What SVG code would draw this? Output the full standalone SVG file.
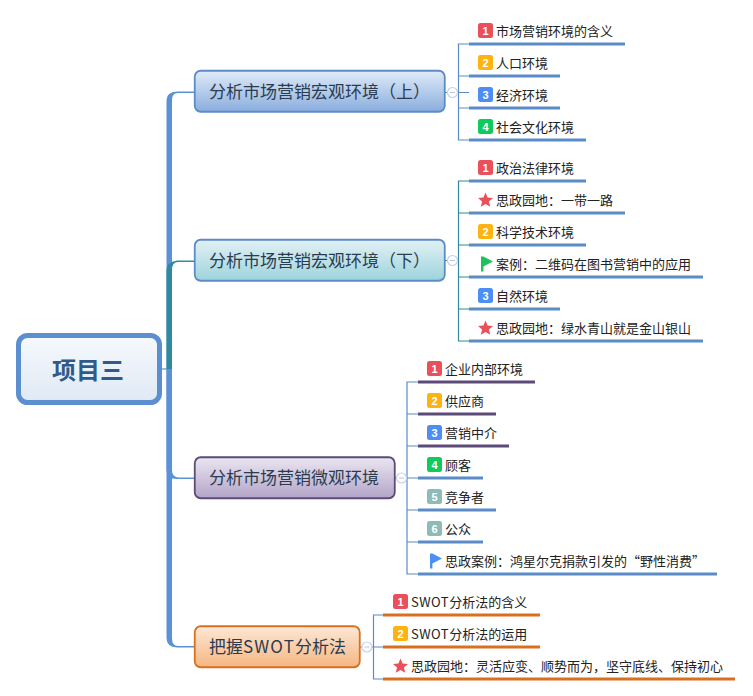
<svg xmlns="http://www.w3.org/2000/svg" width="753" height="696" viewBox="0 0 753 696">
<style>
.t{font-family:"Noto Sans CJK SC","Liberation Sans",sans-serif;font-size:13px;fill:#222}
.n{font-family:"Noto Sans CJK SC","Liberation Sans",sans-serif;font-size:17px;fill:#2b3c50}
.b{font-family:"Liberation Sans",sans-serif;font-size:11px;font-weight:bold;fill:#fff;text-anchor:middle}
.l{fill:none;stroke-width:3}
.k{fill:none;stroke-width:1.2}
.c{fill:#fff;stroke:#c5d3e6;stroke-width:1.2}
.m{stroke:#b9c6d8;stroke-width:1}
</style>
<defs>
<linearGradient id="g0" x1="0" y1="0" x2="0" y2="1"><stop offset="0" stop-color="#f6f9fc"/><stop offset="1" stop-color="#dfe9f5"/></linearGradient>
<linearGradient id="g1" x1="0" y1="0" x2="0" y2="1"><stop offset="0" stop-color="#dfebf8"/><stop offset="1" stop-color="#8badde"/></linearGradient>
<linearGradient id="g2" x1="0" y1="0" x2="0" y2="1"><stop offset="0" stop-color="#e2f1f5"/><stop offset="1" stop-color="#9dd3dc"/></linearGradient>
<linearGradient id="g3" x1="0" y1="0" x2="0" y2="1"><stop offset="0" stop-color="#ebe6f1"/><stop offset="1" stop-color="#b2a4c8"/></linearGradient>
<linearGradient id="g4" x1="0" y1="0" x2="0" y2="1"><stop offset="0" stop-color="#fde8d6"/><stop offset="1" stop-color="#f6b681"/></linearGradient>
<path id="star" d="M0-7.5 2.1-2.4 7.5-2 3.4 1.500 4.700 6.800 0 3.900-4.700 6.800-3.400 1.500-7.500-2-2.100-2.400Z" fill="#e9505a"/>
<path id="flag" d="M-5-7.500H-2.600L7-2.500-2.600 2.500V7.500H-5Z"/>
</defs>
<g id="connectors">
<path d="M161 369H168" fill="none" stroke="#5b92d6" stroke-width="1.200"/>
<path d="M166.500 369V100Q166.500 92 177 91.500H195V93H178Q172 93 172 100V369Z" fill="#5b92d6"/>
<path d="M166.500 369V270Q166.500 262 177 260.500H195V262H178Q172 262 172 270V369Z" fill="#2f8a9e"/>
<path d="M166.500 369V638Q166.500 647 177 647.500H195V646H178Q172 646 172 638V369Z" fill="#5b92d6"/>
<path d="M166.500 369H172V470Q172 477 178 477.500H195V479H177Q166.500 479 166.500 470Z" fill="#5b92d6"/>
<path class="k" d="M445 92.500H469M469 44H458.500V140H469M458.500 76H469M458.500 108H469" stroke="#5b8cc8"/>
<path class="k" d="M445 260.500H458.500M469 181H458.500V341H469M458.500 213H469M458.500 245H469M458.500 277H469M458.500 309H469" stroke="#2f8a9e"/>
<path class="k" d="M395 478H418M418 382H407V574H418M407 414H418M407 446H418M407 510H418M407 542H418" stroke="#5b8cc8"/>
<path class="k" d="M360 647H383M383 615H373.500V679H383" stroke="#5b8cc8"/>
<g class="l" stroke="#5b8cc8">
<path d="M469 44H625M469 76H560M469 108H560M469 140H586"/>
<path d="M469 181H586M469 213H625M469 245H586M469 277H703M469 309H560M469 341H703"/>
<path d="M418 478H483M418 510H496M418 542H483M418 574H717"/>
</g>
<path class="l" stroke="#5c4b78" d="M418 382H535M418 414H496M418 446H509"/>
<path class="l" stroke="#d9701f" d="M383 615H540M383 647H540M383 679H735"/>
<circle class="c" cx="452.500" cy="92.500" r="5"/><path class="m" d="M450 92.500H455"/>
<circle class="c" cx="452.500" cy="260.500" r="5"/><path class="m" d="M450 260.500H455"/>
<circle class="c" cx="401.500" cy="478" r="5"/><path class="m" d="M399 478H404"/>
<circle class="c" cx="367" cy="647" r="5"/><path class="m" d="M364.500 647H369.500"/>
</g>
<g id="root"><rect x="18.500" y="335.500" width="141" height="67" rx="9" fill="url(#g0)" stroke="#5b8fd0" stroke-width="5"/>
<text x="88" y="378.500" font-family="'Noto Sans CJK SC',sans-serif" font-size="24" font-weight="bold" fill="#2f5a8c" text-anchor="middle">项目三</text></g>
<g id="node-1"><rect x="194.750" y="70.750" width="250" height="41" rx="6" fill="url(#g1)" stroke="#5b8cc8" stroke-width="1.800"/><text class="n" x="209" y="98">分析市场营销宏观环境（上）</text></g>
<g id="node-2"><rect x="194.750" y="239.750" width="250" height="41" rx="6" fill="url(#g2)" stroke="#5b8cc8" stroke-width="1.800"/><text class="n" x="209" y="267">分析市场营销宏观环境（下）</text></g>
<g id="node-3"><rect x="194.750" y="457.250" width="200" height="41" rx="6" fill="url(#g3)" stroke="#5c4b78" stroke-width="1.800"/><text class="n" x="209" y="484">分析市场营销微观环境</text></g>
<g id="node-4"><rect x="194.750" y="626.250" width="165" height="41" rx="6" fill="url(#g4)" stroke="#d9701f" stroke-width="1.800"/><text class="n" x="209" y="653">把握<tspan letter-spacing="1.200">SWOT</tspan>分析法</text></g>
<g id="n1-1"><rect x="478" y="23" width="15" height="15" rx="2.500" fill="#e9505a"/><text class="b" x="485.500" y="35">1</text><text class="t" x="496" y="36">市场营销环境的含义</text></g>
<g id="n1-2"><rect x="478" y="55" width="15" height="15" rx="2.500" fill="#ffb310"/><text class="b" x="485.500" y="67">2</text><text class="t" x="496" y="68">人口环境</text></g>
<g id="n1-3"><rect x="478" y="87" width="15" height="15" rx="2.500" fill="#4d8ef5"/><text class="b" x="485.500" y="99">3</text><text class="t" x="496" y="100">经济环境</text></g>
<g id="n1-4"><rect x="478" y="119" width="15" height="15" rx="2.500" fill="#0ecb5c"/><text class="b" x="485.500" y="131">4</text><text class="t" x="496" y="132">社会文化环境</text></g>
<g id="n2-1"><rect x="478" y="160" width="15" height="15" rx="2.500" fill="#e9505a"/><text class="b" x="485.500" y="172">1</text><text class="t" x="496" y="173">政治法律环境</text></g>
<g id="n2-2"><use href="#star" x="485.500" y="200"/><text class="t" x="496" y="205">思政园地：一带一路</text></g>
<g id="n2-3"><rect x="478" y="224" width="15" height="15" rx="2.500" fill="#ffb310"/><text class="b" x="485.500" y="236">2</text><text class="t" x="496" y="237">科学技术环境</text></g>
<g id="n2-4"><use href="#flag" x="486" y="264" fill="#1ec25c"/><text class="t" x="496" y="269">案例：二维码在图书营销中的应用</text></g>
<g id="n2-5"><rect x="478" y="288" width="15" height="15" rx="2.500" fill="#4d8ef5"/><text class="b" x="485.500" y="300">3</text><text class="t" x="496" y="301">自然环境</text></g>
<g id="n2-6"><use href="#star" x="485.500" y="328"/><text class="t" x="496" y="333">思政园地：绿水青山就是金山银山</text></g>
<g id="n3-1"><rect x="427" y="361" width="15" height="15" rx="2.500" fill="#e9505a"/><text class="b" x="434.500" y="373">1</text><text class="t" x="445" y="374">企业内部环境</text></g>
<g id="n3-2"><rect x="427" y="393" width="15" height="15" rx="2.500" fill="#ffb310"/><text class="b" x="434.500" y="405">2</text><text class="t" x="445" y="406">供应商</text></g>
<g id="n3-3"><rect x="427" y="425" width="15" height="15" rx="2.500" fill="#4d8ef5"/><text class="b" x="434.500" y="437">3</text><text class="t" x="445" y="438">营销中介</text></g>
<g id="n3-4"><rect x="427" y="457" width="15" height="15" rx="2.500" fill="#0ecb5c"/><text class="b" x="434.500" y="469">4</text><text class="t" x="445" y="470">顾客</text></g>
<g id="n3-5"><rect x="427" y="489" width="15" height="15" rx="2.500" fill="#8dbcb8"/><text class="b" x="434.500" y="501">5</text><text class="t" x="445" y="502">竞争者</text></g>
<g id="n3-6"><rect x="427" y="521" width="15" height="15" rx="2.500" fill="#8dbcb8"/><text class="b" x="434.500" y="533">6</text><text class="t" x="445" y="534">公众</text></g>
<g id="n3-7"><use href="#flag" x="435" y="561" fill="#4d8ef5"/><text class="t" x="445" y="566">思政案例：鸿星尔克捐款引发的“野性消费”</text></g>
<g id="n4-1"><rect x="393" y="594" width="15" height="15" rx="2.500" fill="#e9505a"/><text class="b" x="400.500" y="606">1</text><text class="t" x="411" y="607"><tspan letter-spacing="0.500">SWOT</tspan>分析法的含义</text></g>
<g id="n4-2"><rect x="393" y="626" width="15" height="15" rx="2.500" fill="#ffb310"/><text class="b" x="400.500" y="638">2</text><text class="t" x="411" y="639"><tspan letter-spacing="0.500">SWOT</tspan>分析法的运用</text></g>
<g id="n4-3"><use href="#star" x="400.500" y="666"/><text class="t" x="411" y="671">思政园地：灵活应变、顺势而为，坚守底线、保持初心</text></g>
</svg>
